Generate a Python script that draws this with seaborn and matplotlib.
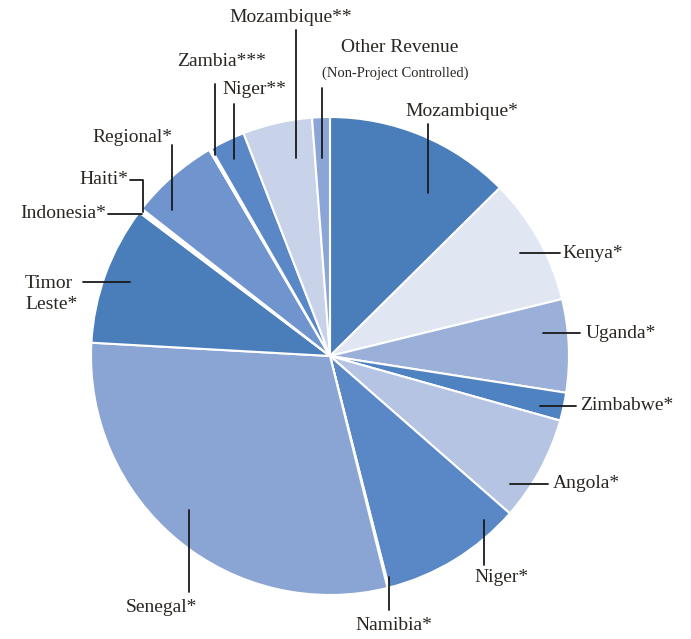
import matplotlib
matplotlib.use("Agg")
import matplotlib.pyplot as plt
import seaborn as sns

# slice data, clockwise from 12 o'clock
labels = ['Mozambique*', 'Kenya*', 'Uganda*', 'Zimbabwe*', 'Angola*', 'Niger*',
          'Namibia*', 'Senegal*', 'Timor\nLeste*', 'Indonesia*', 'Haiti*',
          'Regional*', 'Zambia***', 'Niger**', 'Mozambique**', 'Other Revenue']
shares = [12.6, 8.6, 6.3, 1.9, 7.1, 9.6, 0.1, 29.8, 9.4, 0.15, 0.15,
          6.0, 0.15, 2.4, 4.7, 1.2]
colors = ['#4a7ebb', '#e1e6f3', '#9bb0d8', '#4f82c0', '#b5c4e2', '#5a87c6',
          '#8aa5d3', '#8aa5d3', '#4a7ebb', '#b5c4e2', '#e1e6f3',
          '#7094cd', '#c8d2e9', '#5a87c6', '#c8d2e9', '#8ba6d6']

# label layout in pixel coords (x, y from top), ha, and leader line polyline
layout = {
    'Mozambique*':   ((405, 112), 'left',   [(428, 124), (428, 193)]),
    'Kenya*':        ((562, 253), 'left',   [(560, 253), (520, 253)]),
    'Uganda*':       ((586, 333), 'left',   [(580, 333), (543, 333)]),
    'Zimbabwe*':     ((580, 406), 'left',   [(576, 406), (540, 406)]),
    'Angola*':       ((553, 484), 'left',   [(548, 484), (510, 484)]),
    'Niger*':        ((474, 578), 'left',   [(484, 565), (484, 520)]),
    'Namibia*':      ((355, 626), 'left',   [(389, 610), (389, 577)]),
    'Senegal*':      ((126, 607), 'left',   [(189, 592), (189, 510)]),
    'Timor\nLeste*': ((25, 294),  'left',   [(83, 282), (130, 282)]),
    'Indonesia*':    ((106, 214), 'right',  [(108, 214), (142, 214)]),
    'Haiti*':        ((128, 180), 'right',  [(130, 180), (143, 180), (143, 212)]),
    'Regional*':     ((172, 138), 'right',  [(172, 145), (172, 210)]),
    'Zambia***':     ((266, 62),  'right',  [(215, 84), (215, 155)]),
    'Niger**':       ((222, 90),  'left',   [(234, 104), (234, 159)]),
    'Mozambique**':  ((352, 18),  'right',  [(296, 30), (296, 158)]),
    'Other Revenue': ((400, 48),  'center', [(322, 88), (322, 158)]),
}

W, H = 691, 639
sns.set_theme(style="white")
plt.rcParams['font.family'] = ['Liberation Serif', 'DejaVu Serif']

fig = plt.figure(figsize=(W / 100, H / 100), dpi=100)
ax = fig.add_axes([0, 0, 1, 1])
ax.axis('off')

ax.pie(shares, colors=colors, startangle=90, counterclock=False,
       center=(330, H - 356), radius=239,
       wedgeprops=dict(edgecolor='white', linewidth=1.5))
ax.set_xlim(0, W)
ax.set_ylim(0, H)
ax.set_aspect('equal')

txt_color = '#2a2622'
for name in labels:
    (tx, ty), ha, pts = layout[name]
    ax.plot([p[0] for p in pts], [H - p[1] for p in pts], color='#1a1a1a', lw=1.3)
    ax.text(tx, H - ty, name, ha=ha, va='center', fontsize=14,
            color=txt_color, linespacing=1.3)

ax.text(395, H - 73, '(Non-Project Controlled)', ha='center', va='center',
        fontsize=10.5, color=txt_color)

fig.savefig('out.png', dpi=100)
